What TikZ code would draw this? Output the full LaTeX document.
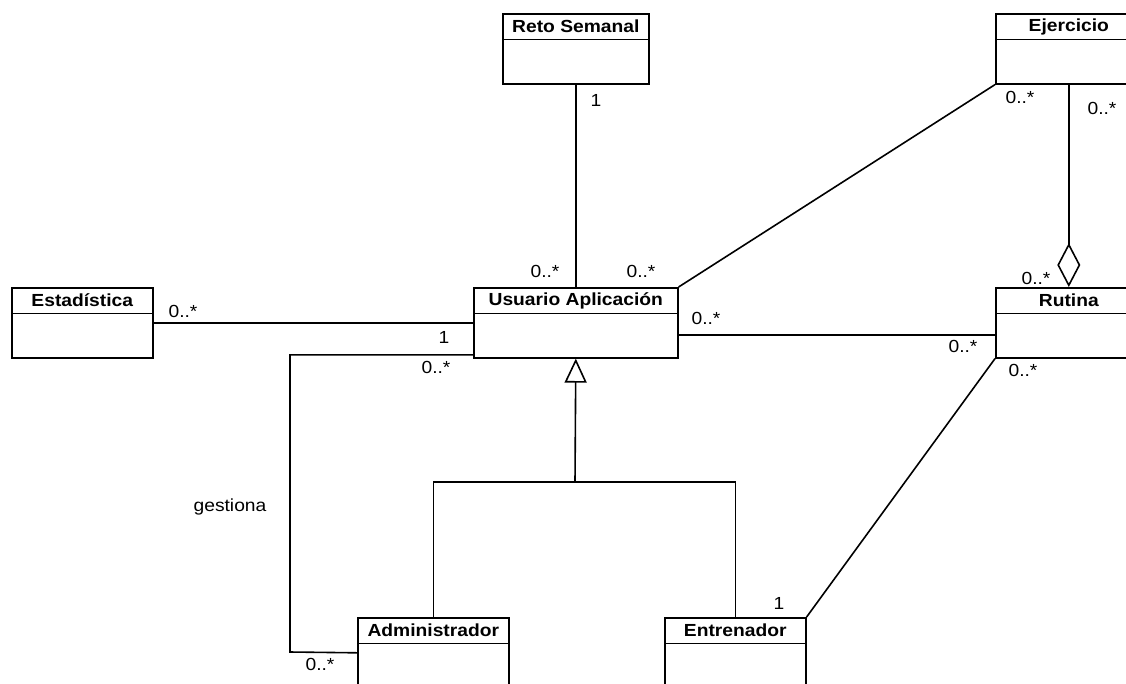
\documentclass[tikz,border=0pt]{standalone}
\usepackage{fontspec}
\setmainfont[FakeStretch=1.1]{Liberation Sans}
\usetikzlibrary{arrows.meta,calc}

\tikzset{
  cls/.style={draw, line width=1.6pt, fill=white, inner sep=0pt, anchor=north west},
  ttl/.style={font=\fontsize{17.5}{20}\selectfont\bfseries, inner sep=0pt},
  lbl/.style={font=\fontsize{17.5}{20}\selectfont, inner sep=0pt},
  con/.style={line width=1.6pt},
}

% class box: name, x, y (top-left), width, height, title
\newcommand{\umlclass}[6]{%
  \node[cls, minimum width=#4pt, minimum height=#5pt] (#1) at (#2,#3) {};
  \node[ttl] (#1-t) at ($(#1.north)+(0,13.5)$) {#6};
  \draw[con] ($(#1.north west)+(0,26.5)$) -- ($(#1.north east)+(0,26.5)$);
}

\begin{document}
\begin{tikzpicture}[x=1pt, y=-1pt]
\useasboundingbox (0,0) rectangle (1126,683);
\clip (0,0) rectangle (1126,683);
\fill[white] (0,0) rectangle (1126,683);

% classes
\umlclass{reto}{502}{13}{146}{70}{Reto Semanal}
\umlclass{ejer}{995}{13}{146}{70}{Ejercicio}
\umlclass{est}{11}{287}{141}{70}{Estadística}
\umlclass{usr}{473}{287}{204}{70}{Usuario Aplicación}
\umlclass{rut}{995}{287}{146}{70}{Rutina}
\umlclass{adm}{357}{617}{151}{70}{Administrador}
\umlclass{ent}{664}{617}{141}{70}{Entrenador}

% associations
\draw[con] (reto.south) -- (usr.north);
\draw[con] (ejer.south west) -- (usr.north east);
\draw[con, {Diamond[open, length=44pt, width=23pt]}-] (rut.north) -- (rut.north |- ejer.south);
\draw[con] ([yshift=-12pt]usr.east) -- ([yshift=-12pt]rut.west);
\draw[con] (est.east) -- (usr.west);
\draw[con] (rut.south west) -- (ent.north east);

% "gestiona" association
\coordinate (gk) at (290,652);
\draw[con] ([yshift=-32pt]usr.west) -| (gk) -- (adm.west);

% generalization
\coordinate (jn) at (575,482);
\draw[con, -{Triangle[open, length=24pt, width=22pt]}] (jn) -- (usr.south);
\draw[con] (adm.north) |- (jn) -| (ent.north);

% multiplicities and role labels
\node[lbl] (m1) at (596,100) {1};
\node[lbl] (m2) at (545,271) {0..*};
\node[lbl] (m3) at (641,271) {0..*};
\node[lbl] (m4) at (1020,97) {0..*};
\node[lbl] (m5) at (1102,108) {0..*};
\node[lbl] (m6) at (1036,278) {0..*};
\node[lbl] (m7) at (1023,370) {0..*};
\node[lbl] (m8) at (706,318) {0..*};
\node[lbl] (m9) at (963,346) {0..*};
\node[lbl] (m10) at (183,311) {0..*};
\node[lbl] (m11) at (444,337) {1};
\node[lbl] (m12) at (436,367) {0..*};
\node[lbl] (m13) at (320,664) {0..*};
\node[lbl] (m14) at (779,603) {1};
\node[lbl] (g) at (230,507) {gestiona};
\end{tikzpicture}
\end{document}
